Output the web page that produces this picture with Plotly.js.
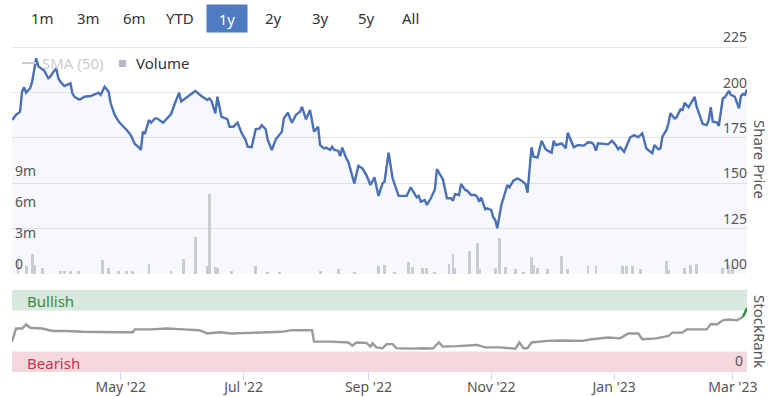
<!DOCTYPE html>
<html>
<head>
<meta charset="utf-8">
<script src="https://cdn.plot.ly/plotly-3.0.1.min.js"></script>
<style>
html,body{margin:0;padding:0;background:#fff;}
#chart{width:771px;height:397px;}
</style>
</head>
<body>
<div id="chart"></div>
<script>
// ---- Data ----
const priceDates = ["2022-03-08","2022-03-10","2022-03-12","2022-03-13","2022-03-14","2022-03-15","2022-03-17","2022-03-18","2022-03-20","2022-03-21","2022-03-23","2022-03-24","2022-03-26","2022-03-27","2022-03-28","2022-03-30","2022-03-31","2022-04-01","2022-04-03","2022-04-05","2022-04-06","2022-04-07","2022-04-08","2022-04-10","2022-04-11","2022-04-13","2022-04-16","2022-04-18","2022-04-20","2022-04-21","2022-04-22","2022-04-23","2022-04-25","2022-04-26","2022-04-28","2022-04-30","2022-05-02","2022-05-04","2022-05-06","2022-05-08","2022-05-10","2022-05-11","2022-05-12","2022-05-13","2022-05-15","2022-05-16","2022-05-18","2022-05-19","2022-05-22","2022-05-24","2022-05-26","2022-05-28","2022-05-30","2022-05-31","2022-06-03","2022-06-05","2022-06-07","2022-06-10","2022-06-13","2022-06-14","2022-06-15","2022-06-17","2022-06-18","2022-06-20","2022-06-23","2022-06-24","2022-06-26","2022-06-28","2022-06-30","2022-07-02","2022-07-03","2022-07-05","2022-07-07","2022-07-09","2022-07-10","2022-07-12","2022-07-13","2022-07-15","2022-07-17","2022-07-20","2022-07-21","2022-07-23","2022-07-25","2022-07-27","2022-07-29","2022-07-30","2022-08-01","2022-08-03","2022-08-05","2022-08-07","2022-08-08","2022-08-10","2022-08-11","2022-08-13","2022-08-14","2022-08-15","2022-08-17","2022-08-18","2022-08-19","2022-08-21","2022-08-22","2022-08-25","2022-08-27","2022-08-29","2022-08-31","2022-09-02","2022-09-04","2022-09-06","2022-09-08","2022-09-09","2022-09-11","2022-09-13","2022-09-16","2022-09-18","2022-09-20","2022-09-22","2022-09-23","2022-09-25","2022-09-26","2022-09-27","2022-09-29","2022-09-30","2022-10-02","2022-10-04","2022-10-05","2022-10-07","2022-10-08","2022-10-10","2022-10-12","2022-10-13","2022-10-14","2022-10-16","2022-10-17","2022-10-19","2022-10-20","2022-10-22","2022-10-24","2022-10-25","2022-10-26","2022-10-27","2022-10-29","2022-10-30","2022-11-01","2022-11-02","2022-11-03","2022-11-04","2022-11-06","2022-11-09","2022-11-10","2022-11-12","2022-11-14","2022-11-16","2022-11-18","2022-11-19","2022-11-21","2022-11-22","2022-11-24","2022-11-26","2022-11-28","2022-11-29","2022-12-01","2022-12-02","2022-12-03","2022-12-05","2022-12-06","2022-12-08","2022-12-09","2022-12-10","2022-12-12","2022-12-14","2022-12-15","2022-12-17","2022-12-19","2022-12-21","2022-12-22","2022-12-23","2022-12-24","2022-12-26","2022-12-29","2022-12-31","2023-01-02","2023-01-03","2023-01-04","2023-01-06","2023-01-07","2023-01-09","2023-01-11","2023-01-13","2023-01-15","2023-01-17","2023-01-19","2023-01-20","2023-01-21","2023-01-23","2023-01-24","2023-01-25","2023-01-27","2023-01-28","2023-01-29","2023-01-31","2023-02-01","2023-02-03","2023-02-04","2023-02-05","2023-02-07","2023-02-08","2023-02-10","2023-02-11","2023-02-13","2023-02-14","2023-02-16","2023-02-17","2023-02-18","2023-02-19","2023-02-21","2023-02-22","2023-02-24","2023-02-25","2023-02-27","2023-02-28","2023-03-02","2023-03-04","2023-03-05","2023-03-06","2023-03-07","2023-03-08"];
const priceValues = [184.8,187.6,189.4,200.4,202.8,199.8,202.3,205.9,218.8,214.5,212.7,212.0,207.8,208.7,210.5,213.3,207.8,205.9,203.5,204.4,205.0,199.5,197.6,196.2,196.2,197.6,198.0,198.9,199.8,198.6,201.3,203.1,200.4,194.0,187.6,183.9,181.5,179.3,176.5,171.6,169.8,168.3,178.4,177.1,184.8,183.3,185.7,185.7,183.3,185.7,188.1,194.3,199.8,195.0,197.6,199.5,200.8,198.0,195.8,196.7,195.4,188.5,197.6,186.7,185.2,181.1,181.1,183.3,177.8,173.8,170.1,169.8,179.7,180.2,182.0,179.7,173.8,168.3,174.2,178.4,185.7,188.8,183.3,187.6,189.4,192.1,185.2,190.3,178.4,181.1,171.0,169.2,169.6,168.3,170.1,168.3,167.9,165.0,169.6,163.7,161.8,149.9,159.5,158.2,154.5,149.0,153.2,143.0,149.9,150.8,166.8,152.7,143.0,143.0,143.0,147.7,145.9,142.2,143.0,139.8,140.7,138.0,141.7,146.6,157.7,154.0,152.1,141.7,141.7,140.4,144.0,143.5,149.6,146.3,145.9,143.5,143.5,142.6,139.8,142.1,135.6,136.2,135.2,131.2,129.7,125.2,138.0,149.0,147.7,151.4,152.7,151.4,149.6,144.8,169.8,164.6,164.2,173.4,168.7,167.9,166.8,173.4,171.0,171.6,171.9,169.2,177.8,175.0,169.8,171.0,171.0,170.7,172.5,172.3,171.0,167.9,172.0,171.6,171.4,173.4,170.7,168.7,169.8,167.3,170.1,175.3,176.5,175.3,177.5,169.2,167.3,166.5,171.0,168.7,169.2,175.6,179.3,183.0,188.5,185.7,186.3,190.7,190.3,194.3,191.8,193.6,197.6,192.1,185.2,182.6,182.0,184.8,191.8,183.9,183.5,181.5,196.7,197.3,200.9,198.6,197.6,191.2,198.0,199.1,198.6,201.7];

// Volume in millions of shares
const volumeDates = ["2022-03-11","2022-03-15","2022-03-18","2022-03-19","2022-03-23","2022-04-01","2022-04-03","2022-04-06","2022-04-10","2022-04-22","2022-04-25","2022-04-30","2022-05-04","2022-05-07","2022-05-15","2022-05-26","2022-06-01","2022-06-07","2022-06-13","2022-06-14","2022-06-17","2022-06-18","2022-06-25","2022-07-07","2022-07-13","2022-07-19","2022-08-08","2022-08-17","2022-08-25","2022-09-06","2022-09-09","2022-09-14","2022-09-21","2022-09-23","2022-09-28","2022-09-30","2022-10-04","2022-10-11","2022-10-13","2022-10-14","2022-10-21","2022-10-25","2022-10-26","2022-11-03","2022-11-05","2022-11-08","2022-11-13","2022-11-17","2022-11-21","2022-11-22","2022-11-24","2022-11-29","2022-12-06","2022-12-09","2022-12-19","2022-12-23","2023-01-05","2023-01-07","2023-01-10","2023-01-14","2023-01-27","2023-01-28","2023-02-05","2023-02-08","2023-02-11","2023-02-24","2023-02-27","2023-03-01"];
const volumeValues = [1.3,0.73,1.9,0.87,0.58,0.3,0.3,0.3,0.3,1.35,0.58,0.3,0.3,0.3,0.97,0.3,1.45,3.6,0.73,7.7,0.65,0.58,0.3,0.73,0.22,0.22,0.3,0.44,0.22,0.73,0.87,0.22,1.16,0.65,0.58,0.58,0.22,1.0,1.9,0.58,2.2,3.0,0.44,0.58,3.5,0.65,0.44,0.22,1.6,0.87,0.58,0.44,1.74,0.44,0.73,0.8,0.73,0.73,0.73,0.44,1.3,0.36,0.58,0.87,1.0,0.58,0.87,0.73];

const rankDates = ["2022-03-08","2022-03-10","2022-03-13","2022-03-15","2022-03-17","2022-03-23","2022-03-28","2022-04-04","2022-04-12","2022-04-20","2022-04-30","2022-05-07","2022-05-08","2022-05-16","2022-05-24","2022-06-01","2022-06-09","2022-06-13","2022-06-19","2022-06-25","2022-07-04","2022-07-12","2022-07-20","2022-07-25","2022-08-04","2022-08-05","2022-08-14","2022-08-22","2022-08-24","2022-08-26","2022-08-31","2022-09-02","2022-09-03","2022-09-05","2022-09-08","2022-09-10","2022-09-13","2022-09-15","2022-09-22","2022-09-28","2022-10-03","2022-10-06","2022-10-08","2022-10-15","2022-10-25","2022-10-29","2022-11-05","2022-11-13","2022-11-15","2022-11-17","2022-11-19","2022-11-21","2022-11-29","2022-12-06","2022-12-16","2022-12-21","2022-12-29","2023-01-04","2023-01-08","2023-01-13","2023-01-15","2023-01-22","2023-01-28","2023-01-30","2023-02-04","2023-02-06","2023-02-16","2023-02-18","2023-02-21","2023-02-24","2023-02-27","2023-03-03","2023-03-06"];
const rankValues = [37,53,53,58,54,53,50,50,49,48.5,48.5,48.5,52,52,53,52,51,47,48.5,47,48,49,49,51,51,37,37,36,32,36,35.6,31,35,30,29,34,34,29,28.5,29,28.5,36,31,31.5,33,30,30,28.5,36,29,29,36,38,38.5,38,40,42,41,47,47,40,41,44,48,48,52,52,58.5,58,63,64,63,67];
const rankLastDates = ["2023-03-06","2023-03-08"];
const rankLastValues = [67,78];

const priceTicks = [100,125,150,175,200,225];
const volumeTicks = [0,3,6,9];
const volumeTickText = ["0","3m","6m","9m"];
const monthTicks = ["2022-05-01","2022-07-01","2022-09-01","2022-11-01","2023-01-01","2023-03-01"];
const rankTickLabel = "0";
const rangeButtons = ["1m","3m","6m","YTD","1y","2y","3y","5y","All"];
const selectedButton = "1y";

// ---- Layout helpers (pixel -> paper) ----
const W = 771, H = 397, ML = 12, MR = 24, MT = 26, MB = 25;
const PW = W - ML - MR, PH = H - MT - MB;
const px = x => (x - ML) / PW;
const py = y => (H - MB - y) / PH;

const FONT = "Noto Sans, Open Sans, sans-serif";

const traces = [
  {
    type: "bar", x: volumeDates, y: volumeValues, yaxis: "y2", xaxis: "x",
    marker: {color: "#c9ccd4", line: {width: 0}},
    width: 1.4 * 86400000, hoverinfo: "x+y", showlegend: false, name: "Volume"
  },
  {
    type: "scatter", mode: "lines", x: priceDates, y: priceValues, yaxis: "y", xaxis: "x",
    line: {color: "#4a70b6", width: 2.4},
    fill: "tozeroy", fillcolor: "rgba(74,112,182,0.05)",
    showlegend: false, name: "Share Price"
  },
  {
    type: "scatter", mode: "lines", x: rankDates, y: rankValues, yaxis: "y3", xaxis: "x",
    line: {color: "#9a9a9a", width: 2.4}, showlegend: false, name: "StockRank"
  },
  {
    type: "scatter", mode: "lines", x: rankLastDates, y: rankLastValues, yaxis: "y3", xaxis: "x",
    line: {color: "#2e8b3e", width: 2.4}, showlegend: false, name: "StockRank"
  }
];

// price panel: 100 at y=274px, 225 at y=47px; top of panel at MT
const priceTopValue = 100 + (274 - MT) * 125 / (274 - 47);
const volumeTopValue = (274 - MT) * 3 / 31;
const priceDomain = [py(274), 1];
const rankDomain = [0, py(290)];

const btnCenters = [42, 88, 134, 180, 227, 273, 320, 366, 411];
const annotations = rangeButtons.map((b, i) => {
  const sel = b === selectedButton;
  return {
    text: b, xref: "paper", yref: "paper", x: px(btnCenters[i]), y: py(18),
    xanchor: "center", yanchor: "middle", showarrow: false,
    font: {family: FONT, size: 15, color: sel ? "#ffffff" : "#333333"},
    bgcolor: sel ? "#4f7bc0" : "rgba(0,0,0,0)",
    width: sel ? 40 : null, height: sel ? 27 : null, borderpad: 0
  };
});

annotations.push(
  {text: "SMA (50)", xref: "paper", yref: "paper", x: px(40), y: py(63), xanchor: "left", yanchor: "middle",
   showarrow: false, font: {family: FONT, size: 15, color: "#cccccc"}},
  {text: "Volume", xref: "paper", yref: "paper", x: px(134), y: py(63), xanchor: "left", yanchor: "middle",
   showarrow: false, font: {family: FONT, size: 15, color: "#333333"}},
  {text: "Share Price", xref: "paper", yref: "paper", x: px(760), y: py(159), xanchor: "center", yanchor: "middle",
   textangle: 90, showarrow: false, font: {family: FONT, size: 15, color: "#555555"}},
  {text: "StockRank", xref: "paper", yref: "paper", x: px(760), y: py(331), xanchor: "center", yanchor: "middle",
   textangle: 90, showarrow: false, font: {family: FONT, size: 15, color: "#555555"}},
  {text: "Bullish", xref: "paper", yref: "paper", x: px(25), y: py(301), xanchor: "left", yanchor: "middle",
   showarrow: false, font: {family: FONT, size: 15, color: "#3e8a45"}},
  {text: "Bearish", xref: "paper", yref: "paper", x: px(25), y: py(363), xanchor: "left", yanchor: "middle",
   showarrow: false, font: {family: FONT, size: 15, color: "#c9334f"}},
  {text: rankTickLabel, xref: "paper", yref: "y3", x: 1, y: 0, xanchor: "right", yanchor: "bottom",
   xshift: -2, showarrow: false, font: {family: FONT, size: 14, color: "#555555"}}
);

const shapes = [
  // StockRank bands
  {type: "rect", xref: "paper", yref: "y3", x0: 0, x1: 1, y0: 75, y1: 100, fillcolor: "#d6e9dc", line: {width: 0}, layer: "below"},
  {type: "rect", xref: "paper", yref: "y3", x0: 0, x1: 1, y0: 0, y1: 25, fillcolor: "#f5d8de", line: {width: 0}, layer: "below"},
  // legend symbols
  {type: "line", xref: "paper", yref: "paper", x0: px(22), x1: px(36), y0: py(63), y1: py(63), line: {color: "#cccccc", width: 2}},
  {type: "rect", xref: "paper", yref: "paper", x0: px(119), x1: px(126), y0: py(67), y1: py(60), fillcolor: "#b5b8c0", line: {width: 0}}
];

const layout = {
  width: W, height: H,
  margin: {l: ML, r: MR, t: MT, b: MB, pad: 0},
  paper_bgcolor: "#ffffff", plot_bgcolor: "rgba(0,0,0,0)",
  font: {family: FONT, size: 14, color: "#555555"},
  showlegend: false, bargap: 0,
  xaxis: {
    type: "date", range: ["2022-03-08", "2023-03-08"], anchor: "y3",
    tickvals: monthTicks, tickformat: "%b '%y",
    ticks: "outside", ticklen: 7, tickcolor: "#ccd6eb", tickwidth: 1,
    ticklabelstandoff: -5, ticklabeloverflow: "allow",
    showgrid: false, zeroline: false, showline: false,
    tickfont: {family: FONT, size: 14, color: "#555555"}
  },
  yaxis: {
    domain: priceDomain, range: [100, priceTopValue], side: "right",
    tickvals: priceTicks, ticklabelposition: "outside top", ticklabelstandoff: -25,
    ticklabeloverflow: "allow",
    showgrid: true, gridcolor: "#e6e6e6", gridwidth: 1, zeroline: false,
    ticks: "", tickfont: {family: FONT, size: 14, color: "#555555"}
  },
  yaxis2: {
    overlaying: "y", side: "left", range: [0, volumeTopValue],
    tickvals: volumeTicks, ticktext: volumeTickText, ticklabelposition: "inside top",
    showgrid: false, zeroline: false, ticks: "",
    tickfont: {family: FONT, size: 14, color: "#555555"}
  },
  yaxis3: {
    domain: rankDomain, range: [0, 100], side: "right",
    tickvals: [100], showticklabels: false,
    showgrid: true, gridcolor: "#e6e6e6", zeroline: false, ticks: ""
  },
  annotations: annotations,
  shapes: shapes
};

Plotly.newPlot("chart", traces, layout, {displayModeBar: false, staticPlot: true});
</script>
</body>
</html>
